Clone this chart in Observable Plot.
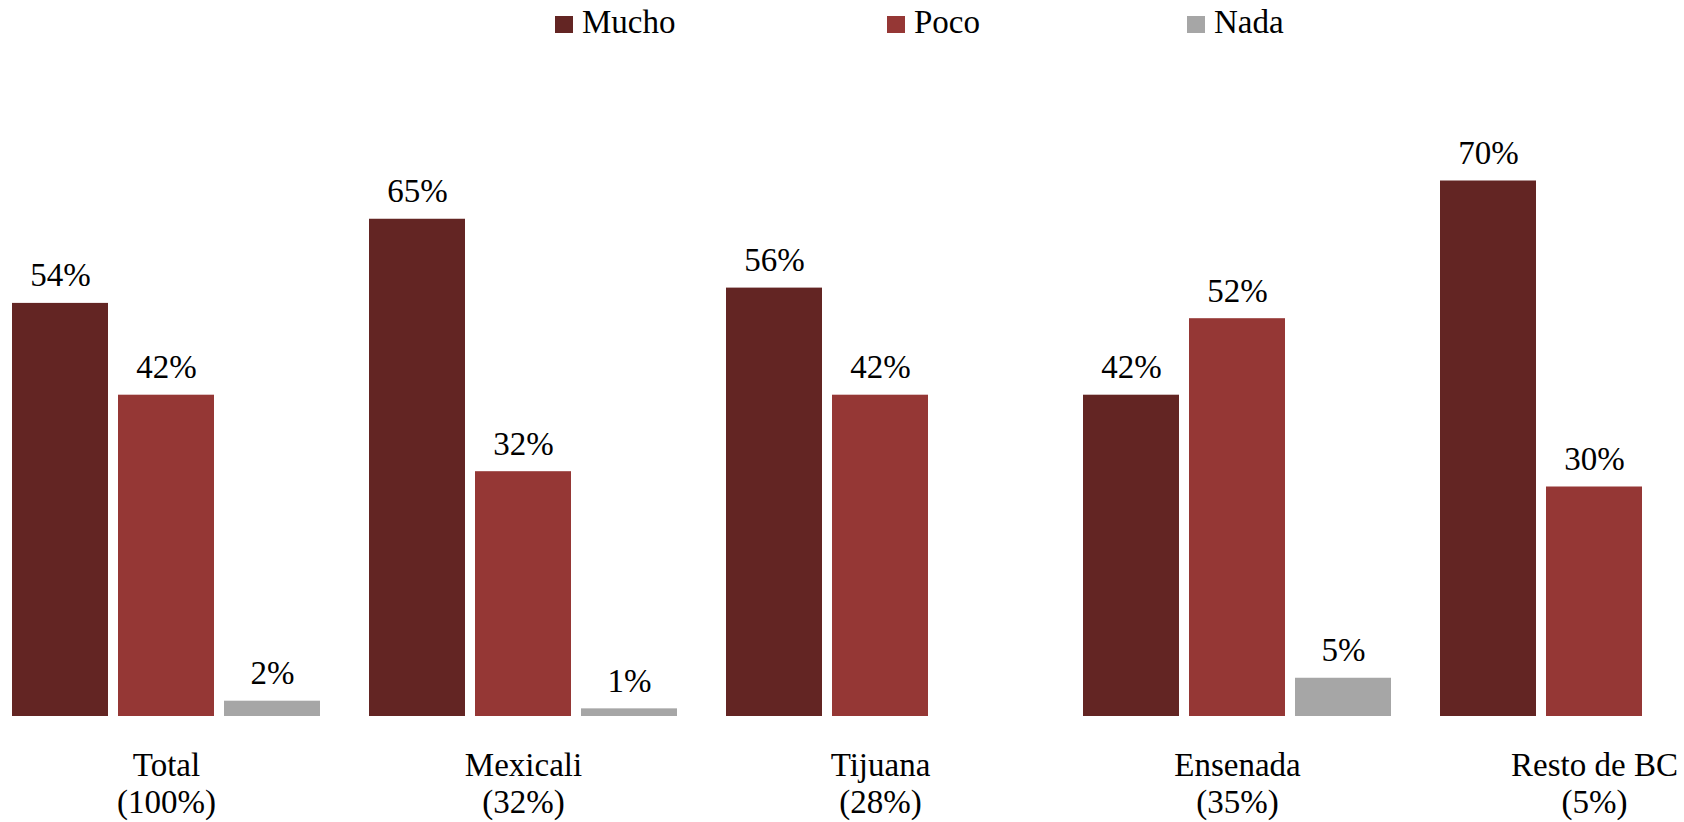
<!DOCTYPE html>
<html>
<head>
<meta charset="utf-8">
<script src="https://cdn.jsdelivr.net/npm/d3@7"></script>
<script src="https://cdn.jsdelivr.net/npm/@observablehq/plot@0.6"></script>
<style>
  html, body { margin: 0; padding: 0; background: #fff; }
  #wrap { width: 1684px; height: 822px; position: relative; overflow: hidden; }
  #legend { position: relative; height: 50px; width: 1684px; font-family: "Liberation Serif", serif; }
  .item { position: absolute; top: 0; height: 50px; }
  .sw { position: absolute; top: 16px; left: 0; width: 18px; height: 17px; }
  .lab { position: absolute; left: 27px; top: 6px; font-size: 33px; line-height: 33px; white-space: nowrap; color: #000; }
  svg { font-family: "Liberation Serif", serif; }
</style>
</head>
<body>
<div id="wrap">
  <div id="legend"></div>
  <div id="chart"></div>
</div>
<script>
const regions = ["Total", "Mexicali", "Tijuana", "Ensenada", "Resto de BC"];
const regionShares = ["100%", "32%", "28%", "35%", "5%"];
const series = ["Mucho", "Poco", "Nada"];
const colors = ["#632523", "#953735", "#A6A6A6"];
const mucho = [54, 65, 56, 42, 70];
const poco = [42, 32, 42, 52, 30];
const nada = [2, 1, null, 5, null];

const legendLeft = [555, 887, 1187];

const values = {Mucho: mucho, Poco: poco, Nada: nada};
const data = [];
regions.forEach((r, i) => {
  series.forEach(s => {
    const v = values[s][i];
    if (v != null) data.push({region: r, series: s, value: v});
  });
});

const legend = document.getElementById("legend");
series.forEach((s, i) => {
  const it = document.createElement("div");
  it.className = "item";
  it.style.left = legendLeft[i] + "px";
  it.innerHTML = `<div class="sw" style="background:${colors[i]}"></div><div class="lab">${s}</div>`;
  legend.appendChild(it);
});

const shareOf = new Map(regions.map((r, i) => [r, regionShares[i]]));

const chart = Plot.plot({
  width: 1684,
  height: 772,
  marginTop: 54,
  marginBottom: 106,
  marginLeft: 0,
  marginRight: 0,
  style: {fontFamily: "Liberation Serif, serif", background: "#fff"},
  fx: {domain: regions, range: [11, 1749], paddingInner: 47 / 357, paddingOuter: 0, axis: null},
  x: {domain: series, paddingInner: 10 / 106, paddingOuter: 0, axis: null},
  y: {domain: [0, 80], axis: null},
  color: {domain: series, range: colors},
  marks: [
    Plot.barY(data, {fx: "region", x: "series", y: "value", fill: "series"}),
    Plot.text(data, {fx: "region", x: "series", y: "value", text: d => d.value + "%",
      lineAnchor: "bottom", dy: -17, fontSize: 33, fill: "#000"}),
    Plot.axisFx({anchor: "bottom", tickSize: 0, tickPadding: 33, fontSize: 33, lineHeight: 1.13,
      label: null, fill: "#000", tickFormat: r => r + "\n(" + shareOf.get(r) + ")"})
  ]
});
document.getElementById("chart").appendChild(chart);
</script>
</body>
</html>
